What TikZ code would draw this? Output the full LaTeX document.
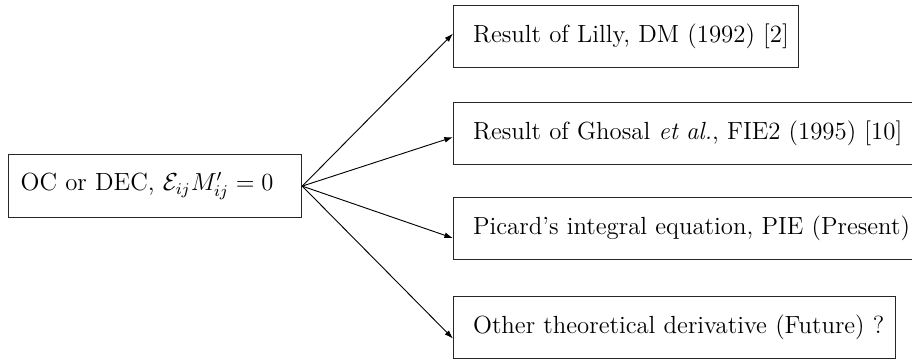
\documentclass[tikz,border=0pt]{standalone}
\usetikzlibrary{arrows.meta,calc}
\def\pxu{0.4878pt}
\tikzset{
  box/.style={draw=black!85, line width=0.6pt, rectangle, inner ysep=0pt, align=left, minimum height=62*\pxu, font=\fontsize{12.1}{14.5}\selectfont},
  arr/.style={-{Latex[length=4.2pt,width=2.8pt]}, line width=0.45pt}
}
\begin{document}
\begin{tikzpicture}[x=0.4878pt,y=-0.4878pt]
\useasboundingbox (0,0) rectangle (912,360);
\node[box, anchor=north west, inner xsep=12*\pxu, text width=269*\pxu, minimum height=63*\pxu] (L) at (8,154) {\mbox{OC or DEC, $\mathcal{E}_{ij}M'_{ij}=0$}};
\node[box, anchor=north west, inner xsep=19.5*\pxu, text width=306*\pxu] (A) at (453,5) {\mbox{Result of Lilly, DM (1992) [2]}};
\node[box, anchor=north west, inner xsep=19.5*\pxu, text width=482*\pxu] (B) at (453,102) {\mbox{Result of Ghosal \textit{et al.}, FIE2 (1995) [10]}};
\node[box, anchor=north west, inner xsep=19.5*\pxu, text width=482*\pxu] (C) at (453,197) {\mbox{Picard's integral equation, PIE (Present)}};
\node[box, anchor=north west, inner xsep=19.5*\pxu, text width=403*\pxu] (D) at (453,296) {\mbox{Other theoretical derivative (Future) ?}};
\draw[arr] (L.east) -- ($(A.west)+(0,-3)$);
\draw[arr] (L.east) -- ($(B.west)+(0,3.5)$);
\draw[arr] (L.east) -- ($(C.west)+(0,9.5)$);
\draw[arr] (L.east) -- ($(D.west)+(0,11)$);
\end{tikzpicture}
\end{document}
